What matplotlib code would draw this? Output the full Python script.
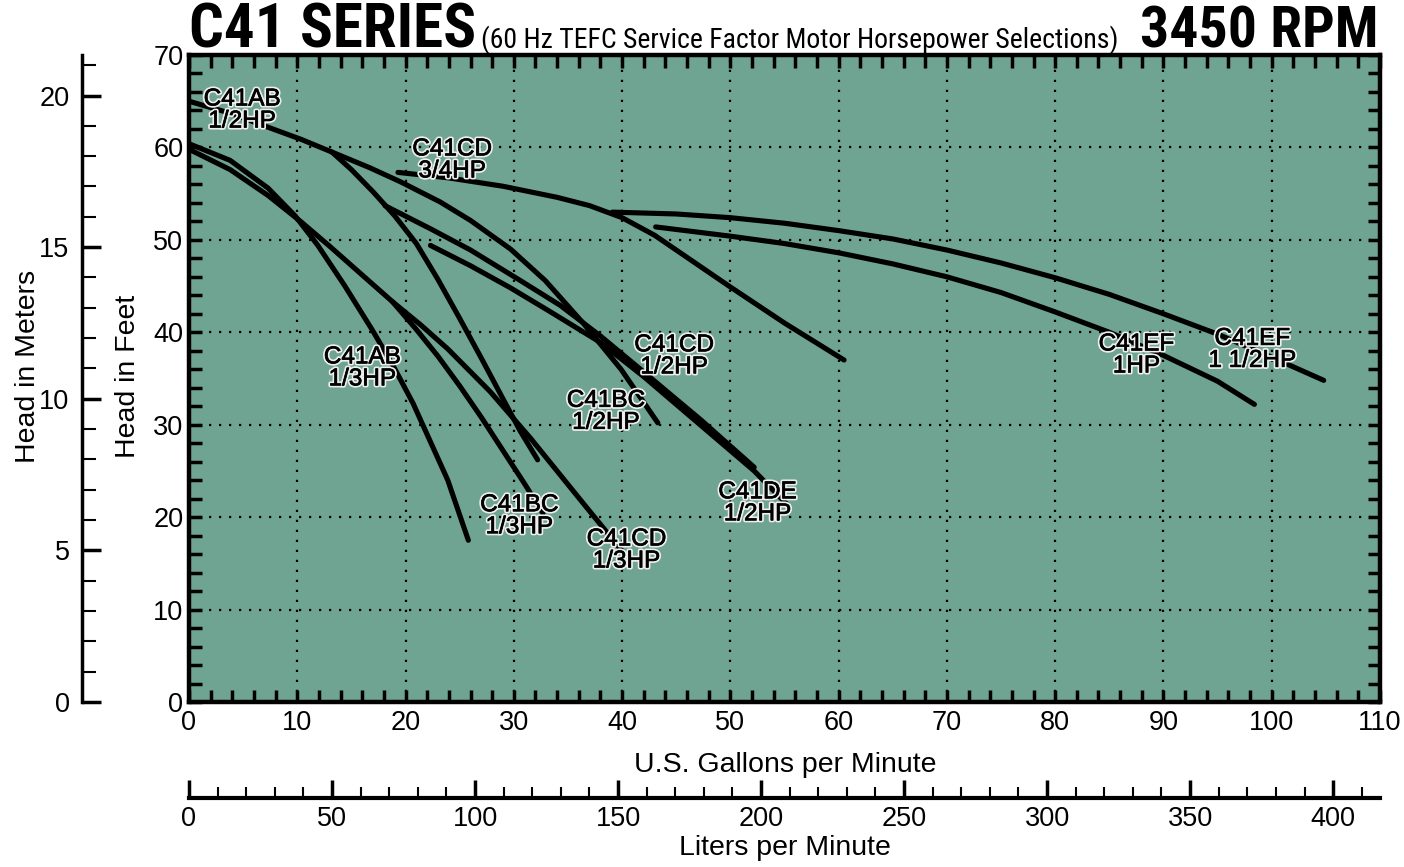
import matplotlib
matplotlib.use("Agg")
import matplotlib.pyplot as plt
import matplotlib.patheffects as pe
from matplotlib import font_manager
from matplotlib.ticker import MultipleLocator

# Pump curves: flow in US gpm, head in feet
ab_half_gpm = [0, 3.8, 7.5, 10.3, 13.2, 16.7, 19.5, 23.2, 26.0, 29.7, 32.9, 36.4, 39.9, 43.3]
ab_half_ft = [65.0, 63.7, 62.1, 60.9, 59.5, 57.8, 56.3, 54.1, 52.1, 49.0, 45.6, 41.0, 36.0, 30.2]

steep_gpm = [13.2, 15.0, 17.0, 19.0, 21.0, 23.0, 25.0, 27.0, 29.0, 30.6, 32.2]
steep_ft = [59.5, 57.6, 55.2, 52.6, 49.6, 45.7, 41.5, 37.2, 32.8, 29.3, 26.2]

ab_third_gpm = [0, 3.8, 7.3, 9.8, 11.9, 14.4, 16.9, 18.8, 20.7, 23.9, 25.8]
ab_third_ft = [60.4, 58.6, 55.6, 52.6, 49.4, 45.0, 40.3, 36.5, 32.3, 24.0, 17.5]

cd_third_gpm = [0, 3.8, 7.3, 10.3, 13.0, 15.8, 18.8, 21.4, 23.9, 27.8, 31.5, 36.2, 40.1]
cd_third_ft = [59.8, 57.6, 54.8, 52.0, 49.3, 46.4, 43.3, 40.8, 38.2, 33.6, 28.6, 21.8, 16.2]

bc_third_gpm = [18.8, 21.0, 23.0, 25.0, 27.0, 29.0, 31.0, 32.7]
bc_third_ft = [43.3, 40.3, 37.4, 34.2, 30.8, 27.2, 23.6, 20.4]

cd_34_gpm = [19.3, 24.0, 29.0, 34.0, 37.0, 40.0, 43.0, 46.0, 50.0, 55.0, 60.5]
cd_34_ft = [57.3, 56.7, 55.8, 54.6, 53.7, 52.4, 50.5, 48.1, 44.9, 41.0, 37.0]

cd_half_gpm = [18.1, 22.3, 26.0, 30.6, 34.3, 38.0, 42.0, 47.3, 52.2]
cd_half_ft = [53.7, 51.2, 48.9, 45.6, 42.9, 39.6, 35.7, 30.5, 25.4]

de_half_gpm = [22.3, 26.0, 29.7, 33.4, 38.0, 42.0, 47.3, 52.2, 55.3]
de_half_ft = [49.4, 47.2, 44.8, 42.2, 38.9, 35.2, 29.9, 25.0, 21.3]

ef_15_gpm = [39.1, 45, 50, 55, 60, 65, 70, 75, 80, 85, 90, 95, 100, 104.8]
ef_15_ft = [53.0, 52.8, 52.4, 51.8, 51.0, 50.1, 48.9, 47.5, 45.9, 44.1, 42.0, 39.8, 37.3, 34.8]

ef_1_gpm = [43.1, 50, 55, 60, 65, 70, 75, 80, 85, 90, 95, 98.4]
ef_1_ft = [51.4, 50.4, 49.6, 48.6, 47.4, 46.0, 44.3, 42.2, 40.0, 37.5, 34.7, 32.2]

curves = [
    (ab_half_gpm, ab_half_ft), (steep_gpm, steep_ft),
    (ab_third_gpm, ab_third_ft), (cd_third_gpm, cd_third_ft),
    (bc_third_gpm, bc_third_ft), (cd_34_gpm, cd_34_ft),
    (cd_half_gpm, cd_half_ft), (de_half_gpm, de_half_ft),
    (ef_15_gpm, ef_15_ft), (ef_1_gpm, ef_1_ft),
]

labels = ["C41AB\n1/2HP", "C41CD\n3/4HP", "C41AB\n1/3HP", "C41CD\n1/2HP",
          "C41BC\n1/2HP", "C41BC\n1/3HP", "C41CD\n1/3HP", "C41DE\n1/2HP",
          "C41EF\n1HP", "C41EF\n1 1/2HP"]
# where each label sits (gpm, ft)
label_pos = [(4.9, 64.0), (24.3, 58.6), (16.0, 36.1), (44.8, 37.4),
             (38.5, 31.4), (30.5, 20.1), (40.4, 16.4), (52.5, 21.5),
             (87.5, 37.5), (98.2, 38.1)]

GAL_TO_L = 3.78541
FT_TO_M = 0.3048
W, H = 1404, 867


def pick_font(names):
    for n in names:
        try:
            font_manager.findfont(font_manager.FontProperties(family=n),
                                  fallback_to_default=False)
            return n
        except Exception:
            continue
    return None


sans = pick_font(["Liberation Sans", "Arial"]) or "DejaVu Sans"
narrow = pick_font(["Liberation Sans Narrow", "Arial Narrow", "Roboto Condensed",
                    "Open Sans Condensed"])
plt.rcParams["font.family"] = sans


def fx(px):
    return px / W


def fy(py):
    return 1 - py / H


fig = plt.figure(figsize=(W / 100, H / 100), dpi=100)

# main chart
x0, x1, y0, y1 = 189, 1380, 702, 55
ax = fig.add_axes([fx(x0), fy(y0), fx(x1) - fx(x0), fy(y1) - fy(y0)])
ax.set_facecolor("#6fa493")
ax.set_xlim(0, 110)
ax.set_ylim(0, 70)
ax.xaxis.set_major_locator(MultipleLocator(10))
ax.xaxis.set_minor_locator(MultipleLocator(2))
ax.yaxis.set_major_locator(MultipleLocator(10))
ax.yaxis.set_minor_locator(MultipleLocator(2))
ax.tick_params(which="both", direction="in", top=True, right=True,
               length=9, width=2.5, labelsize=19.5, pad=6)
ax.tick_params(axis="y", pad=4)
ax.grid(which="major", color="black", linestyle=(0, (1, 3.5)), linewidth=1.6)
ax.set_axisbelow(True)
for s in ax.spines.values():
    s.set_linewidth(3.2)

for g, h in curves:
    ax.plot(g, h, color="black", lw=3.7, solid_capstyle="round",
            solid_joinstyle="round", zorder=3)

effects = [pe.Stroke(linewidth=3.0, foreground="#eeeeee"),
           pe.Stroke(linewidth=0.5, foreground="black"), pe.Normal()]
for txt, (gx, gy) in zip(labels, label_pos):
    ax.text(gx, gy, txt, ha="center", va="center", fontsize=17.5,
            linespacing=1.0, color="black", zorder=5, path_effects=effects)

# meters scale on the far left
axm = fig.add_axes([fx(82), fy(y0), 0.002, fy(y1) - fy(y0)])
axm.set_ylim(0, 70 * FT_TO_M)
axm.patch.set_visible(False)
for k in ("top", "right", "bottom"):
    axm.spines[k].set_visible(False)
axm.spines["left"].set_linewidth(2.5)
axm.set_xticks([])
axm.yaxis.set_major_locator(MultipleLocator(5))
axm.yaxis.set_minor_locator(MultipleLocator(1))
axm.tick_params(axis="y", which="major", direction="in", length=14, width=2.5,
                labelsize=19.5, pad=9)
axm.tick_params(axis="y", which="minor", direction="in", length=10, width=1.5)

# liters scale at the bottom
axl = fig.add_axes([fx(x0), fy(798), fx(x1) - fx(x0), 0.002])
axl.set_xlim(0, 110 * GAL_TO_L)
axl.patch.set_visible(False)
for k in ("top", "right", "left"):
    axl.spines[k].set_visible(False)
axl.spines["bottom"].set_linewidth(3)
axl.set_yticks([])
axl.xaxis.set_major_locator(MultipleLocator(50))
axl.xaxis.set_minor_locator(MultipleLocator(10))
axl.tick_params(axis="x", which="major", direction="in", length=13, width=2.5,
                labelsize=19.5, pad=6)
axl.tick_params(axis="x", which="minor", direction="in", length=8, width=1.5)

# axis titles
fig.text(fx(785), fy(765), "U.S. Gallons per Minute", ha="center", va="center",
         fontsize=20.5)
fig.text(fx(785), fy(848), "Liters per Minute", ha="center", va="center",
         fontsize=20.5)
fig.text(fx(128), fy(376), "Head in Feet", ha="center", va="center",
         rotation=90, fontsize=20.5)
fig.text(fx(28), fy(366), "Head in Meters", ha="center", va="center",
         rotation=90, fontsize=20.5)

# header
if narrow:
    title_size, rpm_size, sub_size, head_font = 44, 41.5, 20, narrow
else:
    title_size, rpm_size, sub_size, head_font = 36, 36, 17.4, sans
fig.text(fx(189), fy(48), "C41 SERIES", ha="left", va="baseline",
         family=head_font, fontweight="bold", fontsize=title_size)
fig.text(fx(481), fy(48), "(60 Hz TEFC Service Factor Motor Horsepower Selections)",
         ha="left", va="baseline", family=head_font, fontsize=sub_size)
fig.text(fx(1378), fy(48), "3450 RPM", ha="right", va="baseline",
         family=head_font, fontweight="bold", fontsize=rpm_size)

fig.savefig("out.png", dpi=100, facecolor="white")
